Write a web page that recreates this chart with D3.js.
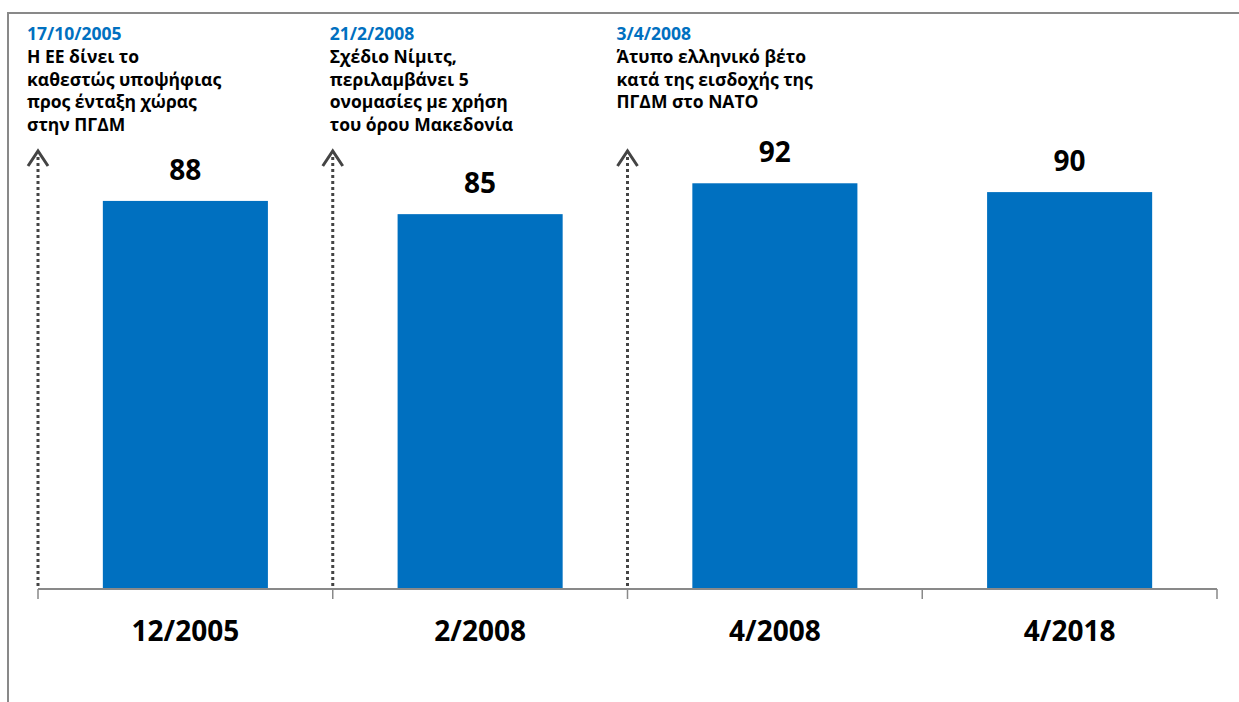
<!DOCTYPE html>
<html>
<head>
<meta charset="utf-8">
<script src="https://cdn.jsdelivr.net/npm/d3@7"></script>
<style>
  body { margin: 0; background: #fff; }
  svg { display: block; }
</style>
</head>
<body>
<svg id="canvas"></svg>
<script>
(function () {

    const categories = ["12/2005", "2/2008", "4/2008", "4/2018"];
    const values = [88, 85, 92, 90];

    const eventDates = ["17/10/2005", "21/2/2008", "3/4/2008"];
    const eventTexts = [
        ["Η ΕΕ δίνει το", "καθεστώς υποψήφιας", "προς ένταξη χώρας", "στην ΠΓΔΜ"],
        ["Σχέδιο Νίμιτς,", "περιλαμβάνει 5", "ονομασίες με χρήση", "του όρου Μακεδονία"],
        ["Άτυπο ελληνικό βέτο", "κατά της εισδοχής της", "ΠΓΔΜ στο ΝΑΤΟ"]
    ];

    const width = 1239;
    const height = 702;
    const barColor = "#0070C0";
    const axisColor = "#898989";
    const font = "Open Sans, Noto Sans, sans-serif";
    const textShift = [-11, -3, -11];

    const plot = { left: 38, right: 1217, top: 148, bottom: 589 };

    const canvas = d3.select("#canvas")
        .attr("width", width)
        .attr("height", height);

    // outer frame (top and left only visible)
    canvas.append("path")
        .attr("d", `M8,${height} V13 H${width}`)
        .attr("fill", "none")
        .attr("stroke", axisColor)
        .attr("stroke-width", 2);

    const x = d3.scaleBand()
        .domain(categories)
        .range([plot.left, plot.right])
        .paddingInner(0.44)
        .paddingOuter(0.22);

    const y = d3.scaleLinear()
        .domain([0, 100])
        .range([plot.bottom, plot.top]);

    const edges = d3.range(categories.length + 1).map(i => plot.left + i * (plot.right - plot.left) / categories.length);

    canvas.selectAll("rect.bar")
        .data(values)
        .enter()
        .append("rect")
        .attr("class", "bar")
        .attr("x", (d, i) => x(categories[i]))
        .attr("width", x.bandwidth())
        .attr("y", d => y(d))
        .attr("height", d => y(0) - y(d))
        .attr("fill", barColor);

    canvas.selectAll("text.value")
        .data(values)
        .enter()
        .append("text")
        .attr("class", "value")
        .attr("x", (d, i) => x(categories[i]) + x.bandwidth() / 2)
        .attr("y", d => y(d) - 21)
        .attr("text-anchor", "middle")
        .attr("font-family", font)
        .attr("font-weight", "bold")
        .attr("font-size", 28)
        .attr("fill", "#000")
        .text(d => d);

    // axis baseline and ticks
    canvas.append("line")
        .attr("x1", plot.left).attr("x2", plot.right)
        .attr("y1", plot.bottom).attr("y2", plot.bottom)
        .attr("stroke", axisColor)
        .attr("stroke-width", 2);

    canvas.selectAll("line.tick")
        .data(edges)
        .enter()
        .append("line")
        .attr("class", "tick")
        .attr("x1", d => d).attr("x2", d => d)
        .attr("y1", plot.bottom).attr("y2", plot.bottom + 10)
        .attr("stroke", axisColor)
        .attr("stroke-width", 1.5);

    canvas.selectAll("text.cat")
        .data(categories)
        .enter()
        .append("text")
        .attr("class", "cat")
        .attr("x", d => x(d) + x.bandwidth() / 2)
        .attr("y", 641)
        .attr("text-anchor", "middle")
        .attr("font-family", font)
        .attr("font-weight", "bold")
        .attr("font-size", 28)
        .attr("fill", "#000")
        .text(d => d);

    // event markers: dotted arrows on the category edges
    const events = canvas.selectAll("g.event")
        .data(eventDates)
        .enter()
        .append("g")
        .attr("class", "event")
        .attr("transform", (d, i) => `translate(${edges[i]},0)`);

    events.append("line")
        .attr("x1", 0).attr("x2", 0)
        .attr("y1", 157).attr("y2", plot.bottom)
        .attr("stroke", "#444")
        .attr("stroke-width", 3)
        .attr("stroke-dasharray", "3,3");

    events.append("path")
        .attr("d", "M-10,166 L0,151 L10,166")
        .attr("fill", "none")
        .attr("stroke", "#444")
        .attr("stroke-width", 3);

    const labels = events.append("text")
        .attr("x", (d, i) => textShift[i])
        .attr("font-family", font)
        .attr("font-weight", "bold")
        .attr("font-size", 17.5);

    labels.append("tspan")
        .attr("y", 40)
        .attr("fill", barColor)
        .text(d => d);

    labels.selectAll("tspan.line")
        .data((d, i) => eventTexts[i])
        .enter()
        .append("tspan")
        .attr("class", "line")
        .attr("x", function () { return d3.select(this.parentNode).attr("x"); })
        .attr("y", (d, i) => 63 + i * 22.6)
        .attr("fill", "#000")
        .text(d => d);

})();
</script>
</body>
</html>
